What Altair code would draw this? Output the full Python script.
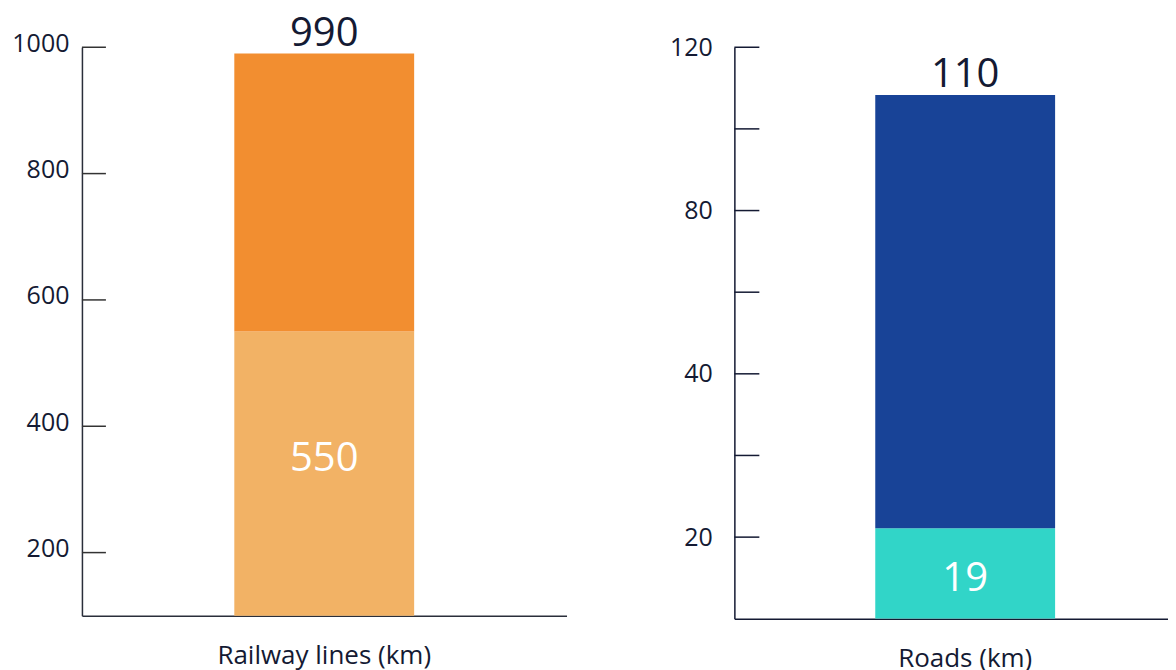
import altair as alt
import pandas as pd

# ---- data ----
rail_category = ["Railway lines (km)"]
rail_lower = [550]
rail_total = [990]
rail_domain = [100, 1000]
rail_tick_values = [200, 400, 600, 800, 1000]
rail_tick_labels = ["200", "400", "600", "800", "1000"]

road_category = ["Roads (km)"]
road_lower = [19]
road_total = [110]
road_domain = [0, 120]
road_tick_values = [17.14, 34.29, 51.43, 68.57, 85.71, 102.86, 120]
road_tick_labels = ["20", "", "40", "", "80", "", "120"]

FONT = "Open Sans"
DARK = "#141a33"


def label_expr(values, labels):
    expr = "''"
    for v, l in reversed(list(zip(values, labels))):
        expr = f"abs(datum.value - {v}) < 0.5 ? '{l}' : ({expr})"
    return expr


def panel(key, cat, lower, total, domain, tick_vals, tick_labels, colors, width, height,
          label_pad, tick_len, tick_color, label_offset, inner_dy, xscale, axis_color):
    parts = [key + " lower", key + " upper"]
    seg = pd.DataFrame({
        "cat": [cat[0], cat[0]],
        "part": parts,
        "y0": [0, lower[0]],
        "y1": [lower[0], total[0]],
    })
    tot = pd.DataFrame({"cat": cat, "v": total, "label": [str(t) for t in total]})
    low = pd.DataFrame({"cat": cat, "v": [(max(domain[0], 0) + lower[0]) / 2],
                        "label": [str(l) for l in lower]})
    ticks = pd.DataFrame({"v": tick_vals})

    yscale = alt.Scale(domain=domain, zero=False, nice=False)
    x = alt.X("cat:N", scale=xscale,
              axis=alt.Axis(title=None, ticks=False, tickSize=0, labelAngle=0,
                            labelFont=FONT, labelFontSize=26, labelColor=DARK,
                            labelLimit=0, labelPadding=27, domainColor=axis_color,
                            domainWidth=1.5))

    bars = alt.Chart(seg).mark_bar(size=180, clip=True).encode(
        x=x,
        y=alt.Y("y0:Q", scale=yscale,
                axis=alt.Axis(title=None, values=tick_vals, grid=False, ticks=False,
                              tickSize=0, labelExpr=label_expr(tick_vals, tick_labels),
                              labelFont=FONT, labelFontSize=25, labelColor=DARK,
                              labelPadding=label_pad, labelOffset=label_offset,
                              domainColor=axis_color, domainWidth=1.5)),
        y2="y1:Q",
        color=alt.Color("part:N", scale=alt.Scale(domain=parts, range=colors),
                        legend=None),
    )
    tick_rules = alt.Chart(ticks).mark_rule(color=tick_color, strokeWidth=1.5).encode(
        y=alt.Y("v:Q", scale=yscale),
        x=alt.value(0),
        x2=alt.value(tick_len),
    )
    top_text = alt.Chart(tot).mark_text(baseline="alphabetic", dy=-8, fontSize=40,
                                        font=FONT, color=DARK).encode(
        x=x, y=alt.Y("v:Q", scale=yscale), text="label:N")
    in_text = alt.Chart(low).mark_text(baseline="middle", dy=inner_dy, fontSize=40,
                                       font=FONT, color="white").encode(
        x=x, y=alt.Y("v:Q", scale=yscale), text="label:N")
    return alt.layer(bars, tick_rules, top_text, in_text).properties(width=width, height=height)


left = panel("rail", rail_category, rail_lower, rail_total, rail_domain, rail_tick_values,
             rail_tick_labels, ["#f2b265", "#f28e30"], 485, 569, 13, 24, "#333333", -4, -15,
             alt.Scale(), "#2a2e3a")
right = panel("road", road_category, road_lower, road_total, road_domain, road_tick_values,
              road_tick_labels, ["#31d5c8", "#184397"], 434, 572, 22, 25, DARK, 0, 6,
              alt.Scale(paddingInner=0, paddingOuter=0.0345, align=1), DARK)

chart = alt.hconcat(left, right, spacing=168, bounds="flush").resolve_scale(
    color="independent"
).properties(
    padding={"left": 3, "top": 5, "right": 0, "bottom": 0}
).configure_view(stroke=None)

chart.save("out.html", embed_options={"renderer": "svg", "actions": False})
